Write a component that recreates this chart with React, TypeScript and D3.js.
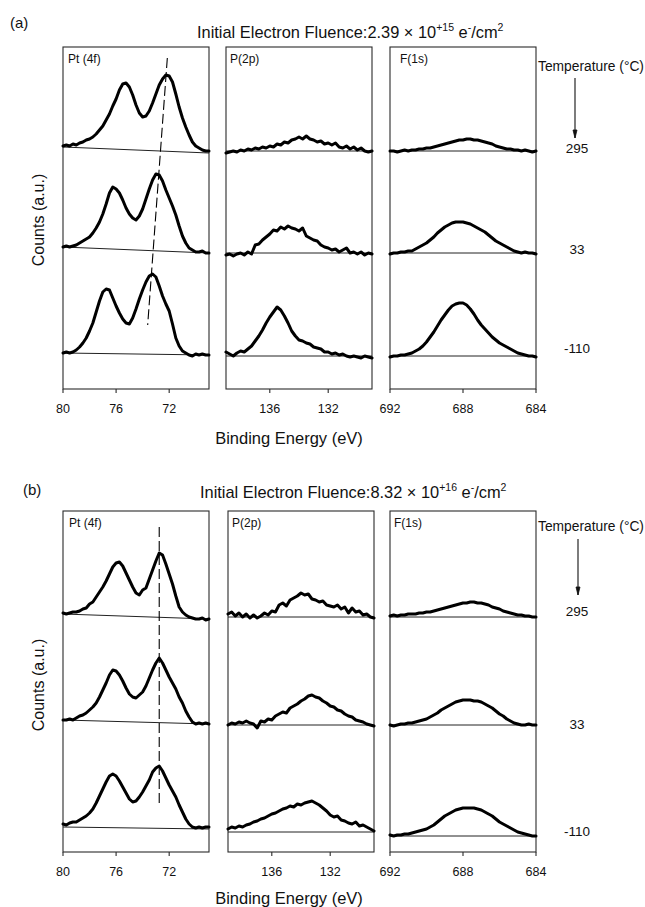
import React from 'react';
import * as d3 from 'd3';

// ---------- data ----------
const temperatures = ['295', '33', '-110'];

const ptDomain = [80, 69];
const pDomain = [139, 129];
const fDomain = [692, 684];
const ptTicks = [80, 76, 72];
const pTicks = [136, 132];
const fTicks = [692, 688, 684];
const ptStep = 0.25;
const pStep = 0.25;
const fStep = 0.2;

const fluenceA = { mantissa: '2.39', exponent: '+15' };
const fluenceB = { mantissa: '8.32', exponent: '+16' };

// stacking offsets (a.u.) for rows 295, 33, -110
const rowOffsetsA = [238, 136, 33];
const rowOffsetsB = [235, 127, 20];

// ---- (a) Pt 4f : 80 -> 69 eV, 0.25 eV steps
const ptA295 = [5, 6, 5, 7, 6, 8, 9, 11, 12, 14, 17, 21, 25, 31, 37, 45, 52, 61, 67, 68, 64, 56, 46, 38, 34, 35, 40, 48, 57, 66, 72, 76, 75, 69, 57, 44, 33, 24, 16, 9, 5, 3, 1, 0, 0];
const ptA33 = [6, 7, 6, 7, 8, 10, 12, 14, 16, 20, 25, 31, 39, 49, 60, 66, 64, 60, 53, 45, 39, 35, 33, 37, 44, 54, 64, 73, 79, 78, 72, 63, 55, 47, 38, 27, 17, 10, 5, 3, 1, 1, 2, 0, 0];
const ptA110 = [3, 4, 3, 4, 6, 9, 13, 18, 25, 33, 44, 55, 64, 67, 66, 58, 50, 43, 37, 33, 32, 38, 47, 57, 66, 74, 80, 82, 79, 70, 60, 52, 45, 32, 18, 10, 5, 3, 1, 0, 2, 1, 2, 1, 1];
const ptBaselinesA = [[4, -2], [6, 0], [3, 1]];

// ---- (a) P 2p : 139 -> 129 eV, 0.25 eV steps
const pA295 = [-2, -1, 0, -1, 1, 0, 2, 1, 3, 2, 4, 3, 5, 4, 7, 6, 9, 8, 11, 12, 14, 12, 15, 12, 11, 9, 10, 7, 8, 6, 8, 4, 3, 5, 2, 4, 1, 3, 0, -1, 0];
const pA33 = [-2, -1, -3, -1, 0, -2, 1, -1, 8, 9, 13, 16, 19, 23, 22, 26, 24, 27, 25, 24, 22, 25, 17, 15, 13, 12, 8, 6, 5, 3, 4, 1, 3, 5, 0, 1, -1, 1, -2, 0, -1];
const pA110 = [4, 2, 0, 3, 5, 4, 7, 10, 15, 20, 26, 33, 39, 44, 49, 46, 40, 33, 25, 20, 16, 15, 13, 12, 9, 8, 7, 4, 4, 2, 3, 1, 2, 0, -1, 0, -1, -2, 0, -1, -2];
const pBaselinesA = [[0, 0], [0, 0], [0, 0]];

// ---- (a) F 1s : 692 -> 684 eV, 0.2 eV steps
const fA295 = [0, 0, -1, 0, 1, 0, 1, 1, 2, 2, 3, 3, 4, 5, 6, 7, 8, 9, 10, 11, 11, 12, 12, 11, 11, 10, 9, 8, 7, 5, 4, 3, 2, 2, 1, 1, 0, 1, 0, -1, 0];
const fA33 = [-1, 0, 0, 1, 1, 2, 2, 4, 6, 8, 10, 13, 16, 20, 23, 26, 28, 30, 31, 31, 31, 30, 29, 27, 25, 23, 21, 18, 15, 12, 10, 8, 6, 4, 2, 1, 0, 1, 0, 0, -1];
const fA110 = [-1, 0, 0, 1, 1, 2, 3, 5, 7, 10, 14, 19, 24, 30, 36, 41, 46, 50, 52, 53, 53, 51, 47, 42, 36, 31, 27, 23, 19, 16, 13, 11, 9, 7, 5, 3, 2, 1, 0, 0, -1];
const fBaselinesA = [[0, 0], [0, 0], [0, 0]];

// ---- (b) Pt 4f
const ptB295 = [4, 3, 4, 5, 5, 6, 8, 9, 13, 15, 20, 25, 30, 36, 43, 50, 54, 55, 51, 44, 37, 30, 24, 22, 27, 29, 38, 47, 56, 64, 62, 53, 43, 33, 21, 10, 5, 2, 0, -1, -2, -2, -1, -3, -2];
const ptB33 = [5, 5, 6, 5, 7, 9, 10, 12, 15, 18, 22, 28, 35, 42, 50, 55, 54, 50, 44, 37, 31, 28, 27, 30, 33, 39, 47, 55, 62, 67, 62, 55, 48, 42, 36, 28, 22, 14, 8, 3, 1, 2, 1, 2, 1];
const ptB110 = [8, 7, 9, 10, 10, 12, 14, 16, 19, 23, 29, 36, 43, 50, 56, 58, 56, 51, 45, 39, 33, 30, 31, 35, 40, 46, 52, 60, 64, 66, 61, 54, 47, 41, 35, 27, 20, 13, 8, 5, 4, 5, 4, 5, 5];
const ptBaselinesB = [[3, -2], [5, 1], [5, 3]];

// ---- (b) P 2p
const pB295 = [3, 5, 1, 4, 0, 3, -1, 2, -1, 1, 4, 2, 6, 5, 12, 14, 11, 17, 19, 21, 24, 22, 23, 18, 17, 15, 16, 12, 11, 10, 12, 8, 10, 4, 9, 5, 6, 2, 3, 0, -1];
const pB33 = [0, 2, 1, 3, 2, 4, 2, 1, -3, 4, 3, 6, 5, 9, 11, 13, 12, 17, 19, 21, 24, 26, 29, 30, 28, 27, 24, 22, 19, 18, 15, 14, 11, 9, 8, 5, 4, 3, 1, 0, -1];
const pB110 = [3, 5, 4, 6, 5, 7, 8, 10, 11, 13, 14, 16, 18, 19, 21, 23, 24, 26, 25, 28, 27, 29, 30, 31, 29, 27, 24, 21, 17, 15, 16, 12, 11, 9, 8, 10, 6, 7, 5, 3, 1];
const pBaselinesB = [[0, 0], [0, 0], [0, 0]];

// ---- (b) F 1s
const fB295 = [1, 2, 1, 2, 2, 3, 3, 3, 4, 4, 5, 5, 6, 7, 8, 9, 10, 11, 12, 13, 14, 14, 15, 15, 14, 14, 13, 12, 10, 9, 8, 6, 5, 4, 3, 2, 2, 1, 1, 0, 0];
const fB33 = [0, -1, 0, 1, 1, 2, 2, 3, 4, 5, 6, 8, 10, 12, 15, 17, 19, 21, 23, 24, 25, 25, 25, 24, 24, 23, 21, 19, 17, 14, 11, 9, 6, 4, 2, 1, 0, 0, 1, 0, 0];
const fB110 = [-3, -4, -3, -3, -2, -2, -1, 0, 1, 2, 3, 5, 7, 10, 13, 16, 18, 20, 22, 23, 24, 24, 24, 24, 23, 22, 20, 18, 16, 13, 10, 8, 6, 4, 2, 0, -1, -2, -3, -4, -4];
const fBaselinesB = [[0, 0], [0, 0], [-4, -4]];

// Pt 4f7/2 peak guide (binding energy, a.u.) top and bottom
const ptGuideA = [[72.14, 331], [73.62, 64]];
const ptGuideB = [[72.75, 325], [72.75, 48]];

// ---------- layout ----------
const FONT = "'Liberation Sans', Arial, Helvetica, sans-serif";

type PanelDef = {
  name: string;
  domain: number[];
  step: number;
  ticks: number[];
  series: number[][];
  baselines: number[][];
  x0: number;
  x1: number;
  labelDx: number;
  guide?: number[][];
};

function energies(domain: number[], step: number, n: number) {
  return d3.range(n).map((i) => domain[0] - i * step);
}

function Panel({ p, top, axisY, offsets }: { p: PanelDef; top: number; axisY: number; offsets: number[] }) {
  const x = d3.scaleLinear().domain(p.domain).range([p.x0, p.x1]);
  const y = d3.scaleLinear().domain([0, axisY - top]).range([axisY, top]);
  const line = d3.line<[number, number]>().x((d) => x(d[0])).y((d) => y(d[1]));
  return (
    <g>
      <rect x={p.x0} y={top} width={p.x1 - p.x0} height={axisY - top} fill="none" stroke="#2a2a2a" strokeWidth={1.1} />
      {p.ticks.map((t) => (
        <g key={t}>
          <line x1={x(t)} x2={x(t)} y1={axisY} y2={axisY + 4} stroke="#2a2a2a" strokeWidth={1.1} />
          <text x={x(t)} y={axisY + 24} textAnchor="middle" fontSize={12.5} fontFamily={FONT} fill="#111">{t}</text>
        </g>
      ))}
      <text x={p.x0 + p.labelDx} y={top + 16} fontSize={12} fontFamily={FONT} fill="#111">{p.name}</text>
      {p.baselines.map((b, i) => (
        <line key={'b' + i} x1={x(p.domain[0])} x2={x(p.domain[1])} y1={y(offsets[i] + b[0])} y2={y(offsets[i] + b[1])} stroke="#222" strokeWidth={1} />
      ))}
      {p.series.map((vals, i) => {
        const es = energies(p.domain, p.step, vals.length);
        const pts = vals.map((v, j) => [es[j], offsets[i] + v] as [number, number]);
        return <path key={'s' + i} d={line(pts) || ''} fill="none" stroke="#000" strokeWidth={3} strokeLinejoin="round" strokeLinecap="round" />;
      })}
      {p.guide && (
        <line x1={x(p.guide[0][0])} y1={y(p.guide[0][1])} x2={x(p.guide[1][0])} y2={y(p.guide[1][1])} stroke="#000" strokeWidth={1.1} strokeDasharray="10,4" />
      )}
    </g>
  );
}

function Section(props: {
  tag: string; tagX: number; tagY: number; titleX: number; titleY: number;
  fluence: { mantissa: string; exponent: string };
  top: number; axisY: number; offsets: number[]; panels: PanelDef[];
  tempTitleY: number; arrowX: number; arrowY: number[]; tempLabelY: number[];
  countsY: number; beY: number;
}) {
  const s = props;
  return (
    <g fontFamily={FONT} fill="#111">
      <text x={s.tagX} y={s.tagY} fontSize={15}>{s.tag}</text>
      <text x={s.titleX} y={s.titleY} fontSize={16.4}>
        Initial Electron Fluence:{s.fluence.mantissa} × 10
        <tspan dy={-7} fontSize={10.5}>{s.fluence.exponent}</tspan>
        <tspan dy={7}> e</tspan>
        <tspan dy={-7} fontSize={10.5}>-</tspan>
        <tspan dy={7}>/cm</tspan>
        <tspan dy={-7} fontSize={10.5}>2</tspan>
      </text>
      {s.panels.map((p) => (
        <Panel key={p.name} p={p} top={s.top} axisY={s.axisY} offsets={s.offsets} />
      ))}
      <text x={538} y={s.tempTitleY} fontSize={13.8}>Temperature (°C)</text>
      <line x1={s.arrowX} x2={s.arrowX} y1={s.arrowY[0]} y2={s.arrowY[1]} stroke="#111" strokeWidth={1.1} />
      <path d={`M${s.arrowX - 2},${s.arrowY[1] - 8} L${s.arrowX},${s.arrowY[1]} L${s.arrowX + 2},${s.arrowY[1] - 8} Z`} fill="#111" stroke="#111" strokeWidth={0.8} />
      {temperatures.map((t, i) => (
        <text key={t} x={577} y={s.tempLabelY[i] + 5} textAnchor="middle" fontSize={13.5}>{t}</text>
      ))}
      <text transform={`translate(44,${s.countsY}) rotate(-90)`} textAnchor="middle" fontSize={16}>Counts (a.u.)</text>
      <text x={289} y={s.beY} textAnchor="middle" fontSize={16.5}>Binding Energy (eV)</text>
    </g>
  );
}

export default function App() {
  const panelsA: PanelDef[] = [
    { name: 'Pt (4f)', domain: ptDomain, step: ptStep, ticks: ptTicks, series: [ptA295, ptA33, ptA110], baselines: ptBaselinesA, x0: 63, x1: 209, labelDx: 5, guide: ptGuideA },
    { name: 'P(2p)', domain: pDomain, step: pStep, ticks: pTicks, series: [pA295, pA33, pA110], baselines: pBaselinesA, x0: 226, x1: 372, labelDx: 4 },
    { name: 'F(1s)', domain: fDomain, step: fStep, ticks: fTicks, series: [fA295, fA33, fA110], baselines: fBaselinesA, x0: 390, x1: 536, labelDx: 10 },
  ];
  const panelsB: PanelDef[] = [
    { name: 'Pt (4f)', domain: ptDomain, step: ptStep, ticks: ptTicks, series: [ptB295, ptB33, ptB110], baselines: ptBaselinesB, x0: 63, x1: 209, labelDx: 6, guide: ptGuideB },
    { name: 'P(2p)', domain: pDomain, step: pStep, ticks: pTicks, series: [pB295, pB33, pB110], baselines: pBaselinesB, x0: 228, x1: 374, labelDx: 4 },
    { name: 'F(1s)', domain: fDomain, step: fStep, ticks: fTicks, series: [fB295, fB33, fB110], baselines: fBaselinesB, x0: 390, x1: 536, labelDx: 4 },
  ];
  return (
    <svg width={645} height={907} viewBox="0 0 645 907" style={{ position: 'absolute', left: 0, top: 0, background: '#fff' }}>
      <rect x={0} y={0} width={645} height={907} fill="#fff" />
      <Section tag="(a)" tagX={10} tagY={28} titleX={197} titleY={38} fluence={fluenceA}
        top={47} axisY={389} offsets={rowOffsetsA} panels={panelsA}
        tempTitleY={71} arrowX={575} arrowY={[78, 138]} tempLabelY={[148, 249, 348]} countsY={220} beY={444} />
      <Section tag="(b)" tagX={23} tagY={495} titleX={200} titleY={498} fluence={fluenceB}
        top={511} axisY={852} offsets={rowOffsetsB} panels={panelsB}
        tempTitleY={531} arrowX={578} arrowY={[539, 595]} tempLabelY={[611, 724, 831]} countsY={685} beY={904} />
    </svg>
  );
}
